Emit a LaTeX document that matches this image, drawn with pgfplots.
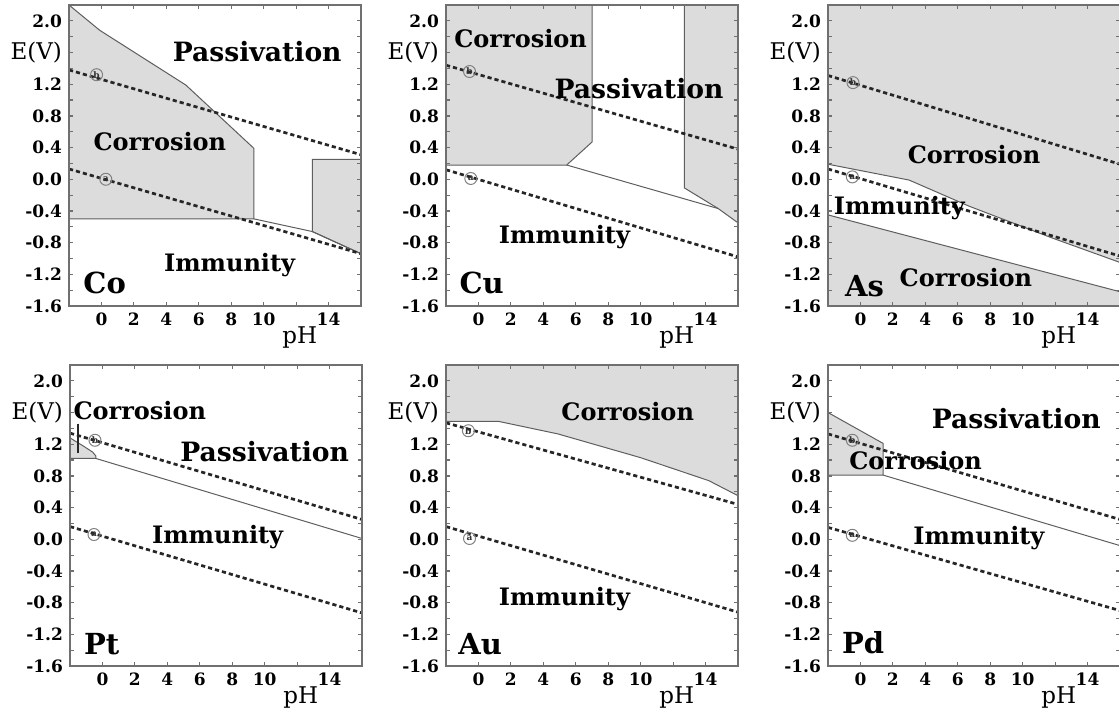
\documentclass[border=0pt]{standalone}
\usepackage{fontspec}
\setmainfont{DejaVu Serif}
\usepackage{pgfplots}
\pgfplotsset{compat=1.18}

\definecolor{regfill}{HTML}{DCDCDC}
\definecolor{bnd}{HTML}{5E5E5E}
\definecolor{frm}{HTML}{707070}

% region captions and element symbols
\newcommand\reg{\fontsize{12}{12}\selectfont\bfseries}
\newcommand\regw{\fontsize{13.3}{13.3}\selectfont\bfseries}
\newcommand\elem{\fontsize{14.5}{14.5}\selectfont\bfseries}

\pgfplotsset{
  pourbaix/.style={
    anchor=south west,
    scale only axis, width=146pt, height=150.5pt,
    xmin=-2, xmax=16, ymin=-1.6, ymax=2.2,
    xtick={0,2,4,6,8,10,12,14},
    xticklabels={0,2,4,6,8,10,{},{\raisebox{1.5pt}{14}}},
    ytick={-1.6,-1.2,-0.8,-0.4,0,0.4,0.8,1.2,1.6,2.0},
    yticklabels={-1.6,-1.2,-0.8,-0.4,0.0,0.4,0.8,1.2,{\fontsize{11.5}{12}\selectfont\mdseries E(V)},2.0},
    minor ytick={-1.4,-1.0,-0.6,-0.2,0.2,0.6,1.0,1.4,1.8},
    tick align=inside,
    major tick length=2.2pt, minor tick length=2.2pt,
    tick style={frm, line width=0.6pt},
    axis line style={frm, line width=0.6pt},
    ticklabel style={font=\fontsize{8.5}{9}\selectfont\bfseries},
    xlabel={pH},
    xlabel style={at={(rel axis cs:0.79,0)}, anchor=base, yshift=-18.5pt,
      font=\fontsize{11.5}{11.5}\selectfont},
    axis on top,
    region/.style={fill=regfill, draw=bnd, line width=0.5pt},
    border/.style={bnd, line width=0.5pt},
    water/.style={black!85, line width=1.35pt, dash pattern=on 2.1pt off 1.5pt},
    refpt/.style={only marks, mark=o, mark size=3pt,
      mark options={draw=gray, line width=0.5pt},
      nodes near coords align={center},
      every node near coord/.append style={font=\fontsize{4.5}{4.5}\selectfont\bfseries, inner sep=0pt, text=black!80}},
  },
}

\begin{document}
\begin{tikzpicture}
\path[use as bounding box] (0,0) rectangle (559.5pt,354.5pt);

% ---------------- Co ----------------
\begin{axis}[pourbaix, at={(34.5pt,201.5pt)}]
\addplot[region] coordinates {(-2,2.2) (-0.1,1.88) (5.2,1.19) (9.4,0.39) (9.4,-0.5) (-2,-0.5)} -- cycle;
\addplot[region] coordinates {(13,0.25) (16,0.25) (16,-0.94) (13,-0.66)} -- cycle;
\addplot[border] coordinates {(9.4,-0.5) (13,-0.66) (16,-0.94)};
\addplot[water] coordinates {(-2,1.38) (16,0.31)};
\addplot[water] coordinates {(-2,0.13) (16,-0.94)};
\addplot[refpt, nodes near coords={b}] coordinates {(-0.3,1.32)};
\addplot[refpt, nodes near coords={a}] coordinates {(0.27,0.0)};
\node[font=\regw] at (axis cs:9.6,1.61) {Passivation};
\node[font=\reg] at (axis cs:3.6,0.47) {Corrosion};
\node[font=\reg] at (axis cs:7.9,-1.08) {Immunity};
\node[font=\elem] at (axis cs:0.2,-1.31) {Co};
\end{axis}

% ---------------- Cu ----------------
\begin{axis}[pourbaix, at={(223pt,201.5pt)}]
\addplot[region] coordinates {(-2,2.2) (7.0,2.2) (7.0,0.47) (5.44,0.18) (-2,0.18)} -- cycle;
\addplot[region] coordinates {(12.7,2.2) (12.7,-0.11) (14.78,-0.37) (16,-0.55) (16,2.2)} -- cycle;
\addplot[border] coordinates {(5.44,0.18) (14.78,-0.37)};
\addplot[water] coordinates {(-2,1.44) (16,0.38)};
\addplot[water] coordinates {(-2,0.12) (16,-0.98)};
\addplot[refpt, nodes near coords={b}] coordinates {(-0.55,1.36)};
\addplot[refpt, nodes near coords={a}] coordinates {(-0.47,0.01)};
\node[font=\reg] at (axis cs:2.6,1.78) {Corrosion};
\node[font=\regw] at (axis cs:9.9,1.15) {Passivation};
\node[font=\reg] at (axis cs:5.3,-0.73) {Immunity};
\node[font=\elem] at (axis cs:0.2,-1.31) {Cu};
\end{axis}

% ---------------- As ----------------
\begin{axis}[pourbaix, at={(414pt,201.5pt)}]
\addplot[fill=regfill, draw=none] coordinates {(-2,-1.6) (16,-1.6) (16,2.2) (-2,2.2)} -- cycle;
\addplot[fill=white, draw=none] coordinates {(-2,0.19) (3.0,-0.01) (6.7,-0.34) (11.8,-0.74) (16,-1.05) (16,-1.42) (-2,-0.45)} -- cycle;
\addplot[border] coordinates {(-2,0.19) (3.0,-0.01) (6.7,-0.34) (11.8,-0.74) (16,-1.05)};
\addplot[border] coordinates {(-2,-0.45) (16,-1.42)};
\addplot[water] coordinates {(-2,1.31) (16,0.19)};
\addplot[water] coordinates {(-2,0.13) (16,-0.97)};
\addplot[refpt, nodes near coords={b}] coordinates {(-0.46,1.22)};
\addplot[refpt, nodes near coords={a}] coordinates {(-0.5,0.03)};
\node[font=\reg] at (axis cs:7.0,0.31) {Corrosion};
\node[font=\reg] at (axis cs:2.4,-0.36) {Immunity};
\node[font=\reg] at (axis cs:6.5,-1.24) {Corrosion};
\node[font=\elem] at (axis cs:0.25,-1.35) {As};
\end{axis}

% ---------------- Pt ----------------
\begin{axis}[pourbaix, at={(35pt,21.5pt)}]
\addplot[region] coordinates {(-2,1.28) (-1.2,1.18) (-0.6,1.1) (-0.4,1.05) (-0.4,1.02) (-2,1.02)} -- cycle;
\addplot[border] coordinates {(-0.4,1.02) (16,0.01)};
\addplot[black!85, line width=0.8pt] coordinates {(-1.5,1.46) (-1.5,1.09)};
\addplot[water] coordinates {(-2,1.34) (16,0.25)};
\addplot[water] coordinates {(-2,0.16) (16,-0.93)};
\addplot[refpt, nodes near coords={b}] coordinates {(-0.46,1.25)};
\addplot[refpt, nodes near coords={a}] coordinates {(-0.52,0.06)};
\node[font=\reg] at (axis cs:2.3,1.62) {Corrosion};
\node[font=\regw] at (axis cs:10.0,1.11) {Passivation};
\node[font=\reg] at (axis cs:7.1,0.03) {Immunity};
\node[font=\elem] at (axis cs:-0.05,-1.32) {Pt};
\end{axis}

% ---------------- Au ----------------
\begin{axis}[pourbaix, at={(223pt,21.5pt)}]
\addplot[fill=regfill, draw=none] coordinates {(-2,2.2) (-2,1.49) (1.2,1.49) (4.9,1.33) (10,1.03) (14.2,0.74) (16,0.55) (16,2.2)} -- cycle;
\addplot[border] coordinates {(-2,1.49) (1.2,1.49) (4.9,1.33) (10,1.03) (14.2,0.74) (16,0.55)};
\addplot[water] coordinates {(-2,1.47) (16,0.44)};
\addplot[water] coordinates {(-2,0.16) (16,-0.92)};
\addplot[refpt, nodes near coords={b}] coordinates {(-0.62,1.37)};
\addplot[refpt, nodes near coords={a}] coordinates {(-0.55,0.01)};
\node[font=\reg] at (axis cs:9.2,1.61) {Corrosion};
\node[font=\reg] at (axis cs:5.3,-0.75) {Immunity};
\node[font=\elem] at (axis cs:0.1,-1.32) {Au};
\end{axis}

% ---------------- Pd ----------------
\begin{axis}[pourbaix, at={(414pt,21.5pt)}]
\addplot[region] coordinates {(-2,1.6) (1.4,1.21) (1.4,0.81) (-2,0.81)} -- cycle;
\addplot[border] coordinates {(1.4,0.81) (16,-0.08)};
\addplot[water] coordinates {(-2,1.33) (16,0.25)};
\addplot[water] coordinates {(-2,0.15) (16,-0.9)};
\addplot[refpt, nodes near coords={b}] coordinates {(-0.5,1.25)};
\addplot[refpt, nodes near coords={a}] coordinates {(-0.5,0.05)};
\node[font=\regw] at (axis cs:9.6,1.52) {Passivation};
\node[font=\reg] at (axis cs:3.4,1.0) {Corrosion};
\node[font=\reg] at (axis cs:7.3,0.02) {Immunity};
\node[font=\elem] at (axis cs:0.16,-1.31) {Pd};
\end{axis}
\end{tikzpicture}
\end{document}
